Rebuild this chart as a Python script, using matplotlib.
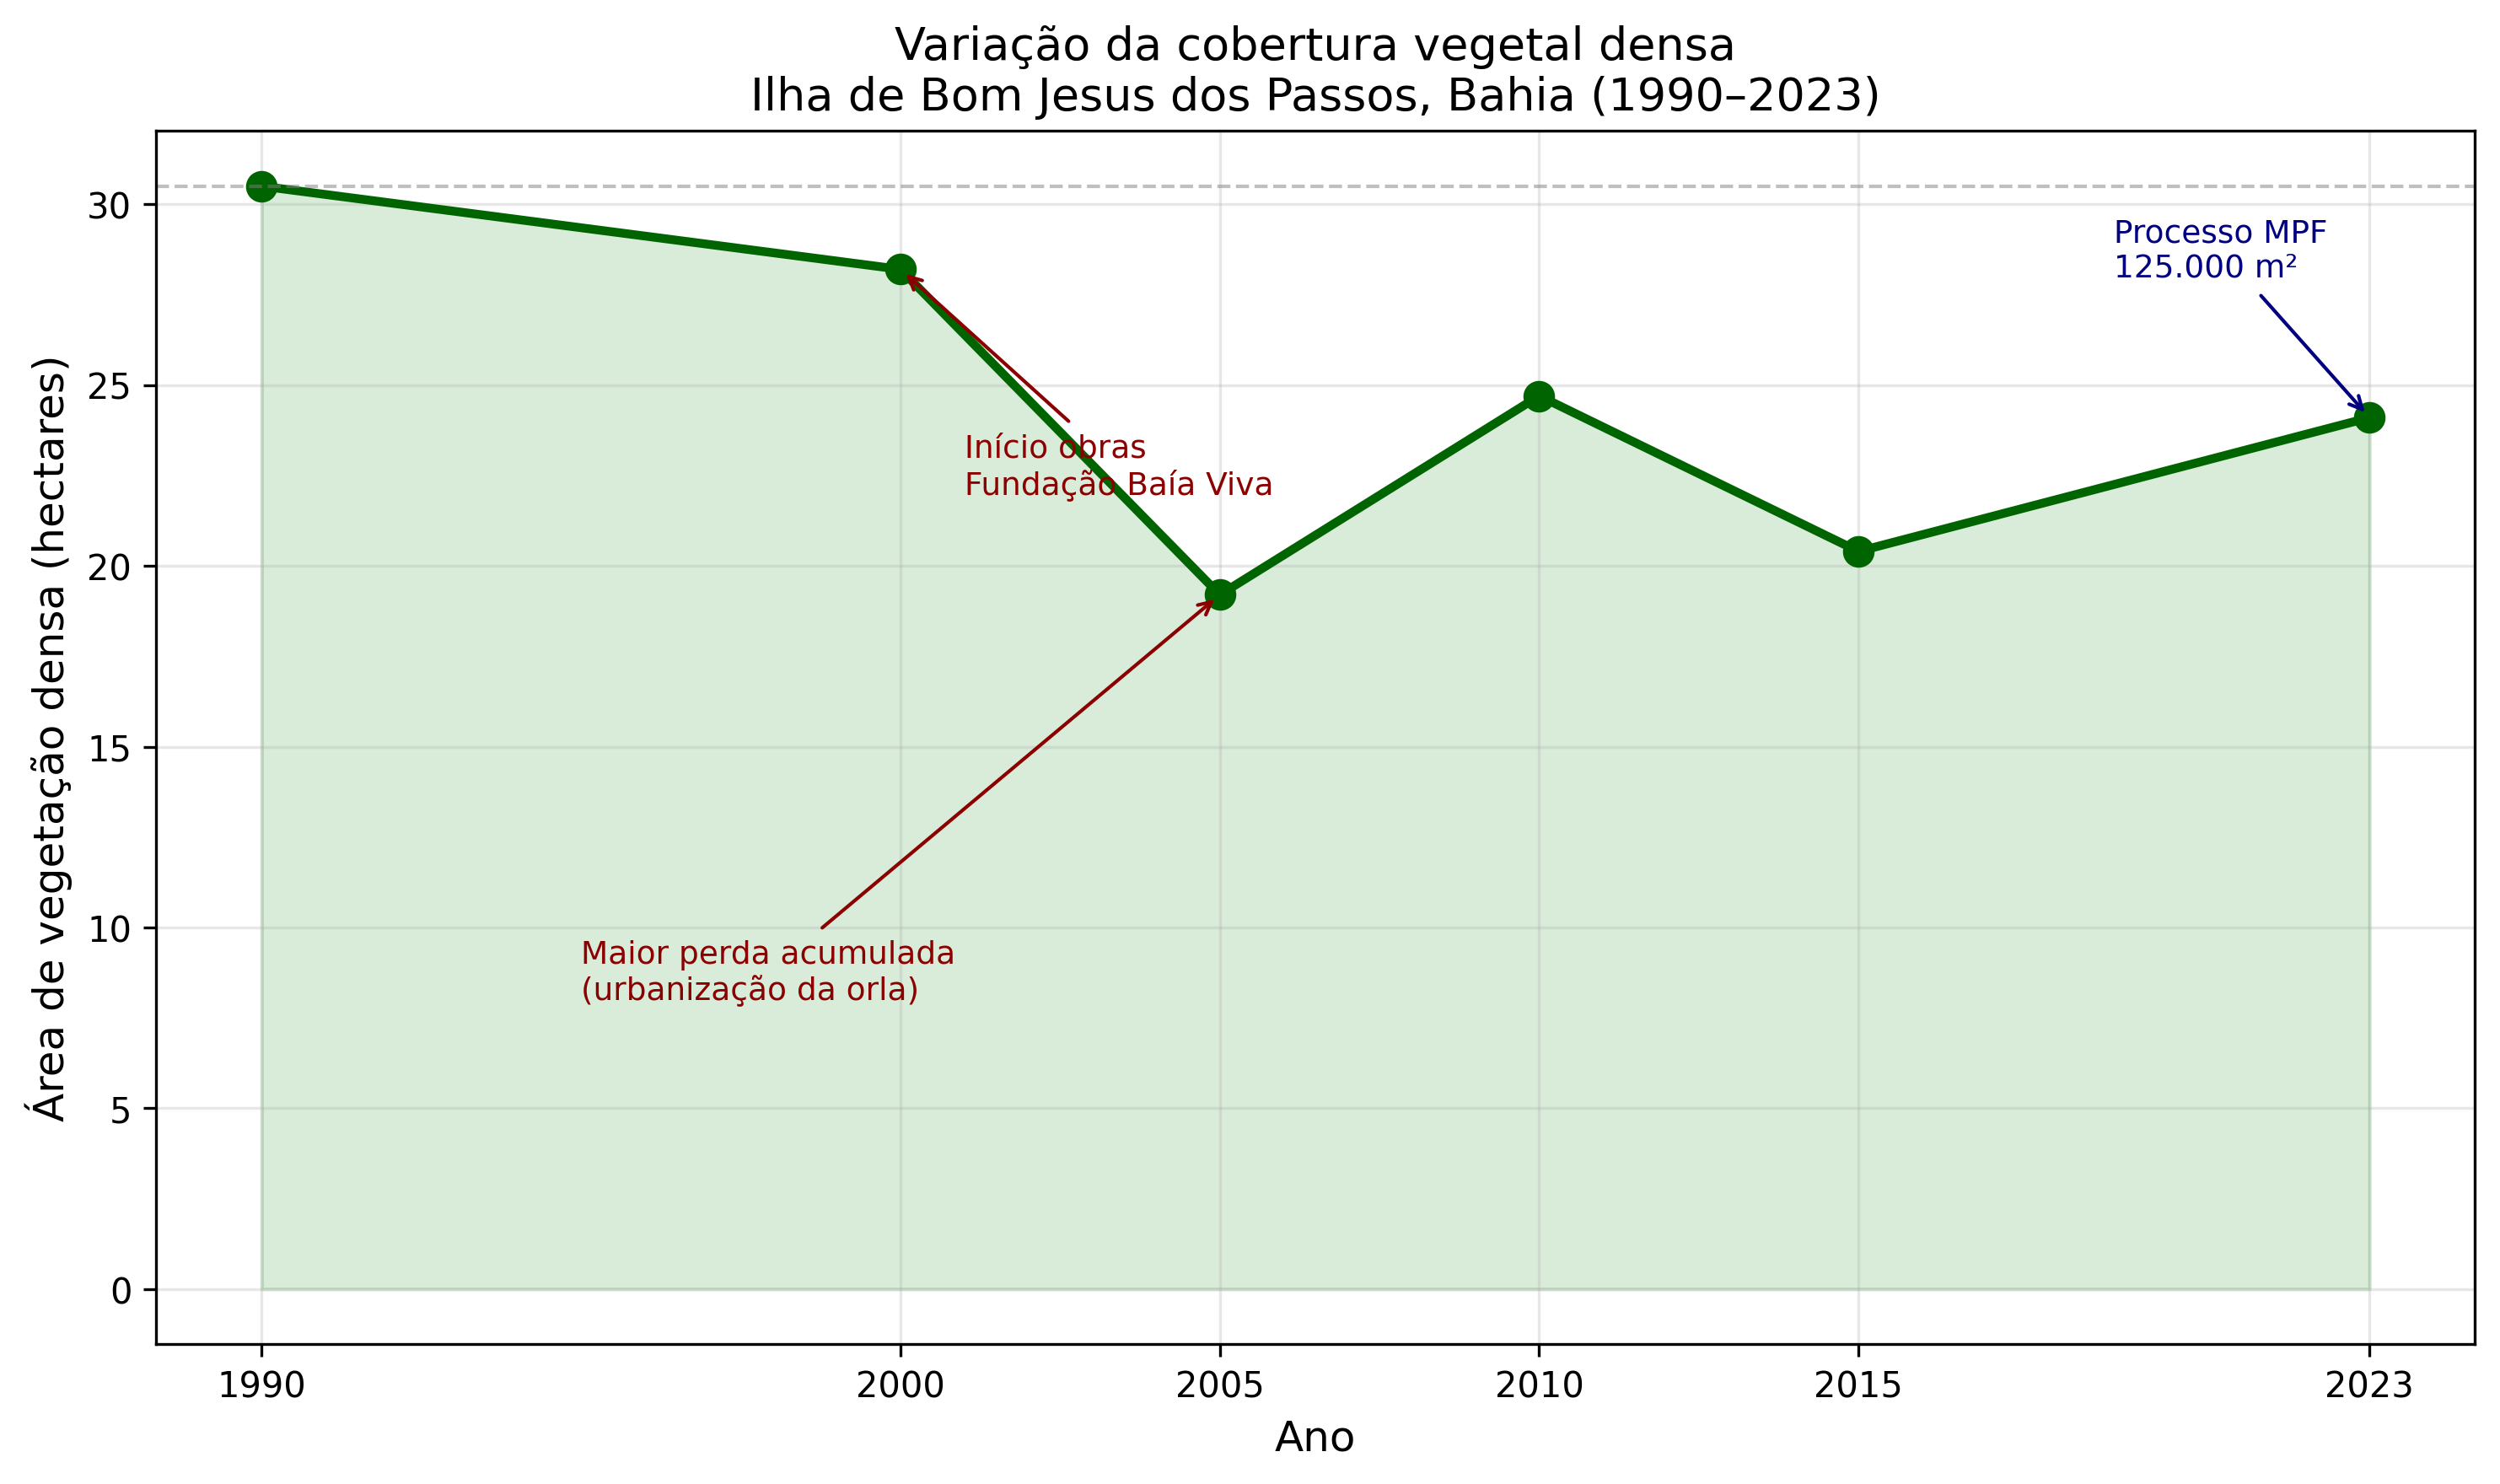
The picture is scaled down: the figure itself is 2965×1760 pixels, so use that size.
import matplotlib
matplotlib.use("Agg")
from matplotlib import pyplot as plt

# dados
anos = [1990, 2000, 2005, 2010, 2015, 2023]
area_ha = [30.5, 28.2, 19.2, 24.7, 20.4, 24.1]

fig, ax = plt.subplots(figsize=(10, 6))

ax.plot(anos, area_ha, color='darkgreen', linewidth=2.5, marker='o', markersize=8)
ax.fill_between(anos, area_ha, color='green', alpha=0.15)
ax.axhline(area_ha[0], color='gray', linestyle='--', linewidth=1, alpha=0.5)

# anotações
ax.annotate('Início obras\nFundação Baía Viva', xy=(2000, area_ha[1]), xytext=(2001, 22),
            color='darkred', fontsize=9,
            arrowprops=dict(arrowstyle='->', color='darkred'))
ax.annotate('Maior perda acumulada\n(urbanização da orla)', xy=(2005, area_ha[2]), xytext=(1995, 8),
            color='darkred', fontsize=9,
            arrowprops=dict(arrowstyle='->', color='darkred'))
ax.annotate('Processo MPF\n125.000 m²', xy=(2023, area_ha[5]), xytext=(2019, 28),
            color='navy', fontsize=9,
            arrowprops=dict(arrowstyle='->', color='navy'))

ax.set_xticks(anos)
ax.set_xlabel('Ano', fontsize=12)
ax.set_ylabel('Área de vegetação densa (hectares)', fontsize=12)
ax.set_title('Variação da cobertura vegetal densa\nIlha de Bom Jesus dos Passos, Bahia (1990–2023)', fontsize=13)
ax.grid(True, alpha=0.3)

plt.tight_layout()
plt.savefig('out.png', dpi=300, bbox_inches='tight')
